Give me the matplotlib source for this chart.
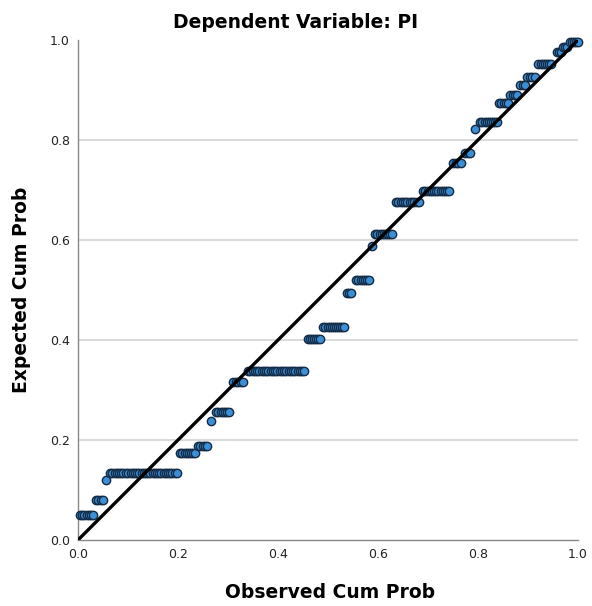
import matplotlib
matplotlib.use('Agg')
import matplotlib.pyplot as plt

# P-P plot of regression standardized residual, Dependent Variable: PI
# each expected level (tied values) with the observed cum prob of its points
expected_levels = [0.050, 0.080, 0.120, 0.134, 0.174, 0.188, 0.238, 0.256,
                   0.316, 0.338, 0.402, 0.426, 0.494, 0.520, 0.588, 0.612,
                   0.676, 0.698, 0.754, 0.774, 0.822, 0.836, 0.874, 0.890,
                   0.910, 0.926, 0.952, 0.976, 0.986, 0.996]

observed_runs = [
    [0.004, 0.009, 0.013, 0.018, 0.022, 0.027, 0.031],
    [0.036, 0.041, 0.046, 0.051],
    [0.056],
    [0.065, 0.069, 0.074, 0.078, 0.083, 0.087, 0.091, 0.096, 0.100, 0.105,
     0.109, 0.113, 0.118, 0.122, 0.127, 0.131, 0.135, 0.140, 0.144, 0.149,
     0.153, 0.157, 0.162, 0.166, 0.171, 0.175, 0.179, 0.184, 0.188, 0.193,
     0.197],
    [0.204, 0.208, 0.213, 0.217, 0.221, 0.226, 0.230, 0.234],
    [0.240, 0.244, 0.249, 0.253, 0.257],
    [0.266],
    [0.276, 0.280, 0.285, 0.289, 0.293, 0.298, 0.302],
    [0.310, 0.315, 0.320, 0.325, 0.330],
    [0.340, 0.344, 0.349, 0.353, 0.358, 0.362, 0.367, 0.371, 0.376, 0.380,
     0.385, 0.389, 0.394, 0.398, 0.403, 0.407, 0.412, 0.416, 0.421, 0.425,
     0.430, 0.434, 0.439, 0.443, 0.448, 0.452],
    [0.460, 0.464, 0.468, 0.472, 0.476, 0.480, 0.484],
    [0.490, 0.494, 0.499, 0.503, 0.507, 0.511, 0.516, 0.520, 0.524, 0.528,
     0.532],
    [0.538, 0.542, 0.546],
    [0.556, 0.560, 0.565, 0.569, 0.573, 0.578, 0.582],
    [0.588],
    [0.594, 0.598, 0.603, 0.607, 0.611, 0.615, 0.620, 0.624, 0.628],
    [0.636, 0.640, 0.645, 0.649, 0.654, 0.658, 0.663, 0.667, 0.672, 0.677,
     0.682],
    [0.690, 0.694, 0.699, 0.703, 0.707, 0.712, 0.716, 0.720, 0.725, 0.729,
     0.733, 0.738, 0.742],
    [0.750, 0.755, 0.760, 0.765],
    [0.774, 0.779, 0.784],
    [0.794],
    [0.804, 0.808, 0.813, 0.817, 0.821, 0.825, 0.830, 0.834, 0.838],
    [0.842, 0.846, 0.851, 0.855, 0.860],
    [0.864, 0.869, 0.874, 0.878],
    [0.884, 0.889, 0.894],
    [0.898, 0.903, 0.908, 0.913],
    [0.920, 0.925, 0.929, 0.934, 0.938, 0.942, 0.946],
    [0.958, 0.962, 0.966],
    [0.970, 0.974, 0.978],
    [0.984, 0.988, 0.992, 0.996, 1.000],
]

tick_vals = [0.0, 0.2, 0.4, 0.6, 0.8, 1.0]
tick_labels = ['0.0', '0.2', '0.4', '0.6', '0.8', '1.0']

observed = []
expected = []
for level, run in zip(expected_levels, observed_runs):
    observed += run
    expected += [level] * len(run)

fig = plt.figure(figsize=(5.92, 6.06), dpi=100)
ax = fig.add_axes([78 / 592, 66 / 606, 500 / 592, 500 / 606])

# horizontal grid only
for v in tick_vals[1:-1]:
    ax.axhline(v, color='#d3d3d3', linewidth=1.2, zorder=0)

ax.plot(observed, expected, linestyle='none', marker='o', markersize=6.0,
        markerfacecolor='#3d8fd5', markeredgecolor='#132b45',
        markeredgewidth=1.0, clip_on=False, zorder=3)

# reference diagonal
ax.plot([0, 1], [0, 1], color='black', linewidth=2.4, zorder=4,
        solid_capstyle='butt')

ax.set_xlim(0, 1)
ax.set_ylim(0, 1)
ax.set_xticks(tick_vals)
ax.set_xticklabels(tick_labels)
ax.set_yticks(tick_vals)
ax.set_yticklabels(tick_labels)
ax.tick_params(length=0, labelsize=9, pad=6, colors='#222222')

for side in ['top', 'right']:
    ax.spines[side].set_visible(False)
for side in ['left', 'bottom']:
    ax.spines[side].set_color('#888888')
    ax.spines[side].set_linewidth(1.0)

fig.text(0.5, 1 - 22 / 606, 'Dependent Variable: PI', ha='center',
         va='center', fontsize=13.5, fontweight='bold')
fig.text(330 / 592, 1 - 592 / 606, 'Observed Cum Prob', ha='center',
         va='center', fontsize=13.5, fontweight='bold')
fig.text(22 / 592, 1 - 290 / 606, 'Expected Cum Prob', ha='center',
         va='center', fontsize=13.5, fontweight='bold', rotation=90)

fig.savefig('out.png', dpi=100)
